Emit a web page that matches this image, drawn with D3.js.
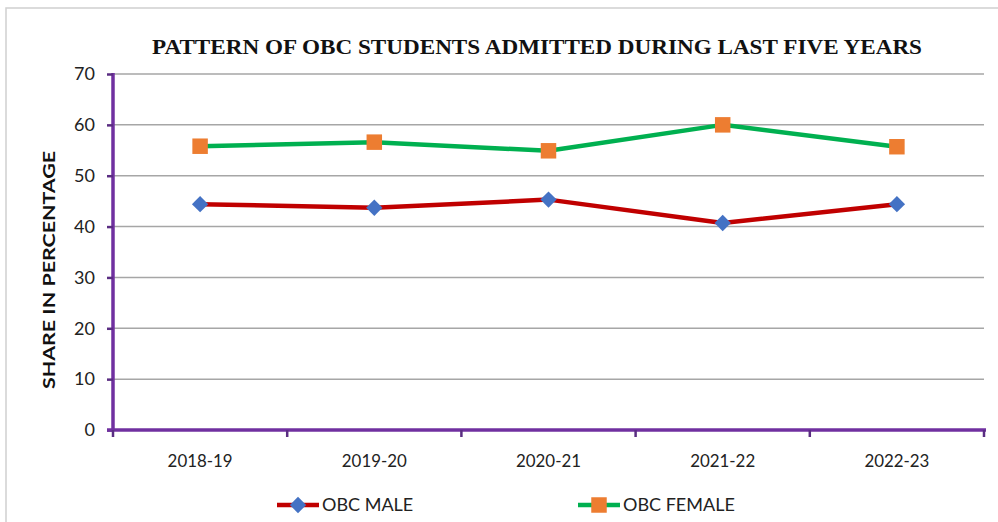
<!DOCTYPE html>
<html>
<head>
<meta charset="utf-8">
<script src="https://cdn.jsdelivr.net/npm/d3@7"></script>
<style>
  body { margin: 0; background: #fff; }
  svg { display: block; }
</style>
</head>
<body>
<script>
// data
var years = ['2018-19', '2019-20', '2020-21', '2021-22', '2022-23'];
var obcMale = [44.4, 43.7, 45.3, 40.7, 44.4];
var obcFemale = [55.8, 56.6, 54.9, 60.0, 55.7];
var yTicks = [0, 10, 20, 30, 40, 50, 60, 70];

var svg = d3.select('body').append('svg')
    .attr('width', 998)
    .attr('height', 522);

// outer frame
svg.append('rect')
    .attr('x', 6).attr('y', 8)
    .attr('width', 1000).attr('height', 530)
    .attr('fill', 'none')
    .attr('stroke', '#d0d0d0')
    .attr('stroke-width', 1.5);

var plotLeft = 113, plotRight = 984, plotTop = 74, plotBottom = 430;

var x = d3.scaleBand().domain(years).range([plotLeft, plotRight]);
var y = d3.scaleLinear().domain([0, 70]).range([plotBottom, plotTop]);

// title
svg.append('text')
    .attr('x', 537).attr('y', 54)
    .attr('text-anchor', 'middle')
    .attr('font-family', 'Liberation Serif, Times New Roman, serif')
    .attr('font-weight', 'bold')
    .attr('font-size', 22)
    .attr('textLength', 770)
    .attr('lengthAdjust', 'spacingAndGlyphs')
    .attr('fill', '#111')
    .text('PATTERN OF OBC STUDENTS ADMITTED DURING LAST FIVE YEARS');

// gridlines
svg.append('g').selectAll('line')
    .data(yTicks.filter(function(d){ return d > 0; }))
    .enter().append('line')
    .attr('x1', plotLeft).attr('x2', plotRight)
    .attr('y1', function(d){ return y(d); })
    .attr('y2', function(d){ return y(d); })
    .attr('stroke', '#a6a6a6')
    .attr('stroke-width', 1.5);

// y axis
var yAxis = svg.append('g')
    .attr('transform', 'translate(' + plotLeft + ',0)')
    .call(d3.axisLeft(y).tickValues(yTicks).tickSize(6).tickPadding(12));
yAxis.select('.domain').attr('stroke', '#7030a0').attr('stroke-width', 3.5)
    .attr('d', 'M0,' + (plotTop - 1) + 'V' + plotBottom);
yAxis.selectAll('.tick line').attr('stroke', '#5a2d82').attr('stroke-width', 2.5);
yAxis.selectAll('.tick text')
    .attr('font-family', 'Lato, sans-serif')
    .attr('font-size', 18)
    .attr('fill', '#222');

// x axis
var xAxis = svg.append('g')
    .attr('transform', 'translate(0,' + plotBottom + ')')
    .call(d3.axisBottom(x).tickSize(0).tickPadding(24));
xAxis.select('.domain').remove();
svg.append('line')
    .attr('x1', plotLeft - 6).attr('x2', plotRight + 2)
    .attr('y1', plotBottom).attr('y2', plotBottom)
    .attr('stroke', '#7030a0').attr('stroke-width', 3.5);
var bounds = years.map(function(d){ return x(d); }).concat([plotRight]);
svg.append('g').selectAll('line')
    .data(bounds)
    .enter().append('line')
    .attr('x1', function(d){ return d; }).attr('x2', function(d){ return d; })
    .attr('y1', plotBottom).attr('y2', plotBottom + 7)
    .attr('stroke', '#5a2d82').attr('stroke-width', 2.5);
xAxis.selectAll('.tick text')
    .attr('font-family', 'Lato, sans-serif')
    .attr('font-size', 18)
    .attr('textLength', 65)
    .attr('lengthAdjust', 'spacingAndGlyphs')
    .attr('fill', '#222');

// y axis title
svg.append('text')
    .attr('transform', 'translate(55,' + 270 + ') rotate(-90)')
    .attr('text-anchor', 'middle')
    .attr('font-family', 'Lato, sans-serif')
    .attr('font-weight', 'bold')
    .attr('font-size', 17)
    .attr('textLength', 238)
    .attr('lengthAdjust', 'spacingAndGlyphs')
    .attr('fill', '#111')
    .text('SHARE IN PERCENTAGE');

var cx = function(d, i){ return x(years[i]) + x.bandwidth() / 2; };

var line = d3.line()
    .x(function(d, i){ return cx(d, i); })
    .y(function(d){ return y(d); });

svg.append('path').datum(obcFemale)
    .attr('d', line)
    .attr('fill', 'none')
    .attr('stroke', '#00b050')
    .attr('stroke-width', 4.5)
    .attr('stroke-linejoin', 'round');

svg.append('path').datum(obcMale)
    .attr('d', line)
    .attr('fill', 'none')
    .attr('stroke', '#c00000')
    .attr('stroke-width', 4.5)
    .attr('stroke-linejoin', 'round');

var diamond = d3.symbol().type(d3.symbolDiamond2).size(170);
var square = d3.symbol().type(d3.symbolSquare).size(240);

svg.append('g').selectAll('path')
    .data(obcMale)
    .enter().append('path')
    .attr('d', diamond)
    .attr('transform', function(d, i){ return 'translate(' + cx(d, i) + ',' + y(d) + ')'; })
    .attr('fill', '#4472c4');

svg.append('g').selectAll('path')
    .data(obcFemale)
    .enter().append('path')
    .attr('d', square)
    .attr('transform', function(d, i){ return 'translate(' + cx(d, i) + ',' + y(d) + ')'; })
    .attr('fill', '#ed7d31');

// legend
var legend = [
    {name: 'OBC MALE', color: '#c00000', marker: '#4472c4', sym: diamond, x: 277},
    {name: 'OBC FEMALE', color: '#00b050', marker: '#ed7d31', sym: square, x: 578}
];
var lg = svg.append('g').selectAll('g')
    .data(legend)
    .enter().append('g')
    .attr('transform', function(d){ return 'translate(' + d.x + ',505)'; });
lg.append('line')
    .attr('x1', 0).attr('x2', 42)
    .attr('stroke', function(d){ return d.color; })
    .attr('stroke-width', 4.5);
lg.append('path')
    .attr('d', function(d){ return d.sym(); })
    .attr('transform', 'translate(21,0)')
    .attr('fill', function(d){ return d.marker; });
lg.append('text')
    .attr('x', 45).attr('y', 6)
    .attr('font-family', 'Lato, sans-serif')
    .attr('font-size', 18)
    .attr('fill', '#222')
    .text(function(d){ return d.name; });
</script>
</body>
</html>
